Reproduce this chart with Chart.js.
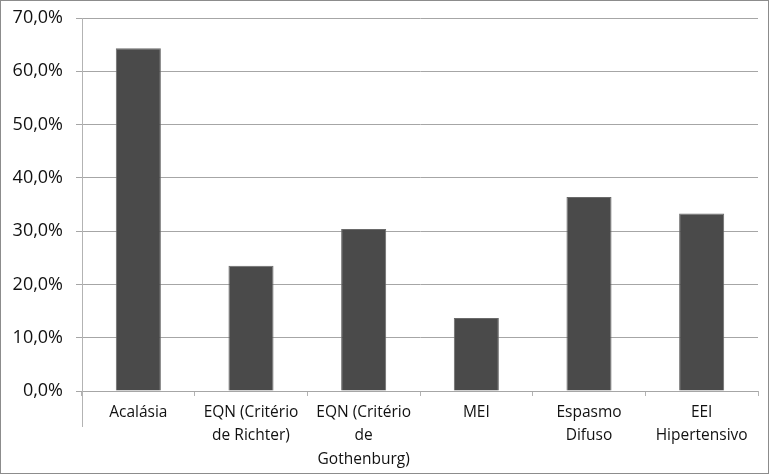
<!DOCTYPE html>
<html>
<head>
<meta charset="utf-8">
<script src="https://cdn.jsdelivr.net/npm/chart.js@4"></script>
<style>
  html, body { margin: 0; padding: 0; background: #fff; }
  #wrap { position: relative; width: 771px; height: 475px; }
</style>
</head>
<body>
<div id="wrap"><canvas id="myChart"></canvas></div>
<script>
const categories = [
  'Acalásia',
  ['EQN (Critério', 'de Richter)'],
  ['EQN (Critério', 'de', 'Gothenburg)'],
  'MEI',
  ['Espasmo', 'Difuso'],
  ['EEI', 'Hipertensivo']
];
const percentages = [64.3, 23.5, 30.4, 13.7, 36.4, 33.3];
const yTicks = [0, 10, 20, 30, 40, 50, 60, 70];

const fontFamily = '"Open Sans", "Noto Sans", sans-serif';

// white background + outer frame + y axis line running past zero like the original
const framePlugin = {
  id: 'frame',
  beforeDraw(chart) {
    const c = chart.ctx;
    c.save();
    c.fillStyle = '#fff';
    c.fillRect(0, 0, chart.width, chart.height);
    c.restore();
  },
  afterDraw(chart) {
    const c = chart.ctx;
    const area = chart.chartArea;
    c.save();
    c.strokeStyle = '#8c8c8c';
    c.lineWidth = 1;
    c.strokeRect(0.5, 0.5, chart.width - 3, chart.height - 2);
    c.strokeStyle = '#b3b3b3';
    c.beginPath();
    c.moveTo(Math.round(area.left) + 0.5, area.bottom);
    c.lineTo(Math.round(area.left) + 0.5, area.bottom + 36);
    c.stroke();
    c.restore();
  }
};

new Chart(document.getElementById('myChart').getContext('2d'), {
  type: 'bar',
  data: {
    labels: categories,
    datasets: [{
      data: percentages,
      backgroundColor: '#4a4a4a',
      borderColor: '#6a6a6a',
      borderWidth: 1,
      barPercentage: 0.4,
      categoryPercentage: 1
    }]
  },
  options: {
    responsive: true,
    maintainAspectRatio: false,
    animation: false,
    layout: { padding: { top: 18, right: 13, left: 0, bottom: 0 } },
    plugins: {
      legend: { display: false },
      tooltip: { enabled: false }
    },
    scales: {
      x: {
        grid: {
          drawOnChartArea: false,
          drawTicks: true,
          tickLength: 5,
          color: '#b3b3b3',
          offset: true
        },
        border: { display: false },
        ticks: {
          color: '#111',
          font: { family: fontFamily, size: 15.5, lineHeight: 1.5 },
          padding: 5,
          maxRotation: 0,
          autoSkip: false
        },
        afterFit(scale) { scale.height = 84; }
      },
      y: {
        min: 0,
        max: 70,
        afterBuildTicks(scale) { scale.ticks = yTicks.map(v => ({ value: v })); },
        grid: {
          color: '#a6a6a6',
          tickLength: 6,
          drawTicks: true
        },
        border: { display: true, color: '#b3b3b3' },
        ticks: {
          color: '#111',
          font: { family: fontFamily, size: 18 },
          padding: 13,
          callback: v => v.toFixed(1).replace('.', ',') + '%'
        },
        afterFit(scale) {
          scale.width = 82;
          scale.paddingTop = 0;
          scale.paddingBottom = 0;
        }
      }
    }
  },
  plugins: [framePlugin]
});
</script>
</body>
</html>
